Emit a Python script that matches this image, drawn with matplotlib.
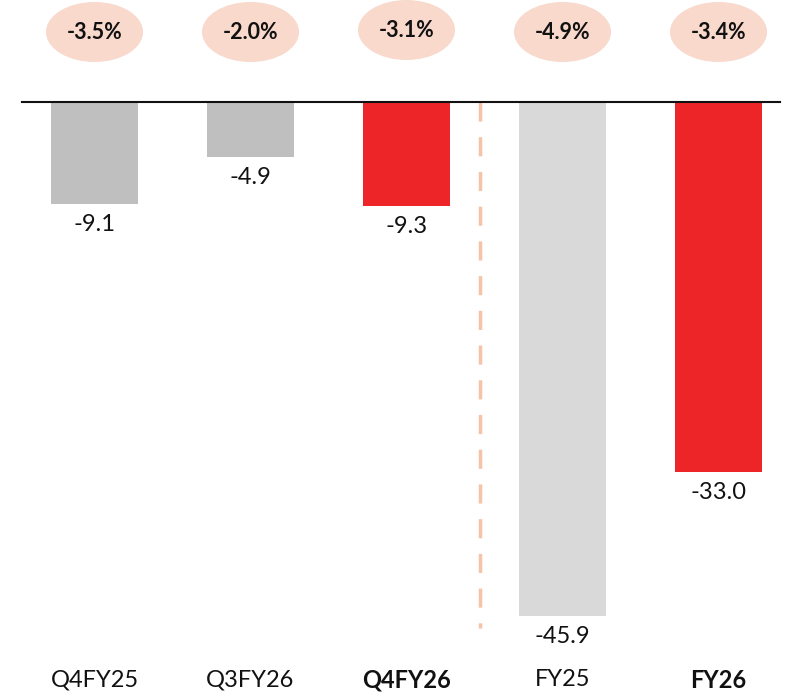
import matplotlib
matplotlib.use("Agg")
import matplotlib.pyplot as plt
from matplotlib.patches import Ellipse

plt.rcParams['font.family'] = ['Lato', 'DejaVu Sans']

categories = ['Q4FY25', 'Q3FY26', 'Q4FY26', 'FY25', 'FY26']
values = [-9.1, -4.9, -9.3, -45.9, -33.0]
margins = ['-3.5%', '-2.0%', '-3.1%', '-4.9%', '-3.4%']
bold_labels = [False, False, True, False, True]
bar_colors = ['#bfbfbf', '#bfbfbf', '#ee2528', '#d9d9d9', '#ee2528']

fig = plt.figure(figsize=(7.94, 6.96), dpi=100)
ax = fig.add_axes([0, 0, 1, 1])

# pixel mapping: centres at 94.5 + 156*i, zero at y=102, 11.2 px per unit
ax.set_xlim(-94.5 / 156, (794 - 94.5) / 156)
ax.set_ylim(-(696 - 102) / 11.2, 102 / 11.2)
ax.axis('off')

x = list(range(len(categories)))
ax.bar(x, values, width=87 / 156, color=bar_colors, zorder=2)

# zero line
ax.axhline(0, xmin=22 / 794, xmax=780 / 794, color='#111111', lw=1.5, zorder=3)

# separator between quarters and full years
ax.plot([2.47, 2.47], [0, -(628 - 102) / 11.2], color='#f5c4a6', lw=2.5,
        dashes=(5.5, 4.5), zorder=1)

for i, v in enumerate(values):
    ax.annotate(f'{v:.1f}', (i, v), xytext=(0, -15), textcoords='offset points',
                ha='center', va='center', fontsize=17, color='#111111')
    ax.text(i, -(680 - 102) / 11.2, categories[i], ha='center', va='center',
            fontsize=17, color='#111111',
            fontweight='bold' if bold_labels[i] else 'normal')
    cy = (102 - (30 if i == 2 else 32)) / 11.2
    ax.add_patch(Ellipse((i, cy), 97 / 156, 60 / 11.2, facecolor='#f8d9cc',
                         edgecolor='none', zorder=2))
    ax.text(i, cy, margins[i], ha='center', va='center', fontsize=15.5,
            fontweight='bold', color='#111111', zorder=3)

fig.savefig('out.png', dpi=100)
